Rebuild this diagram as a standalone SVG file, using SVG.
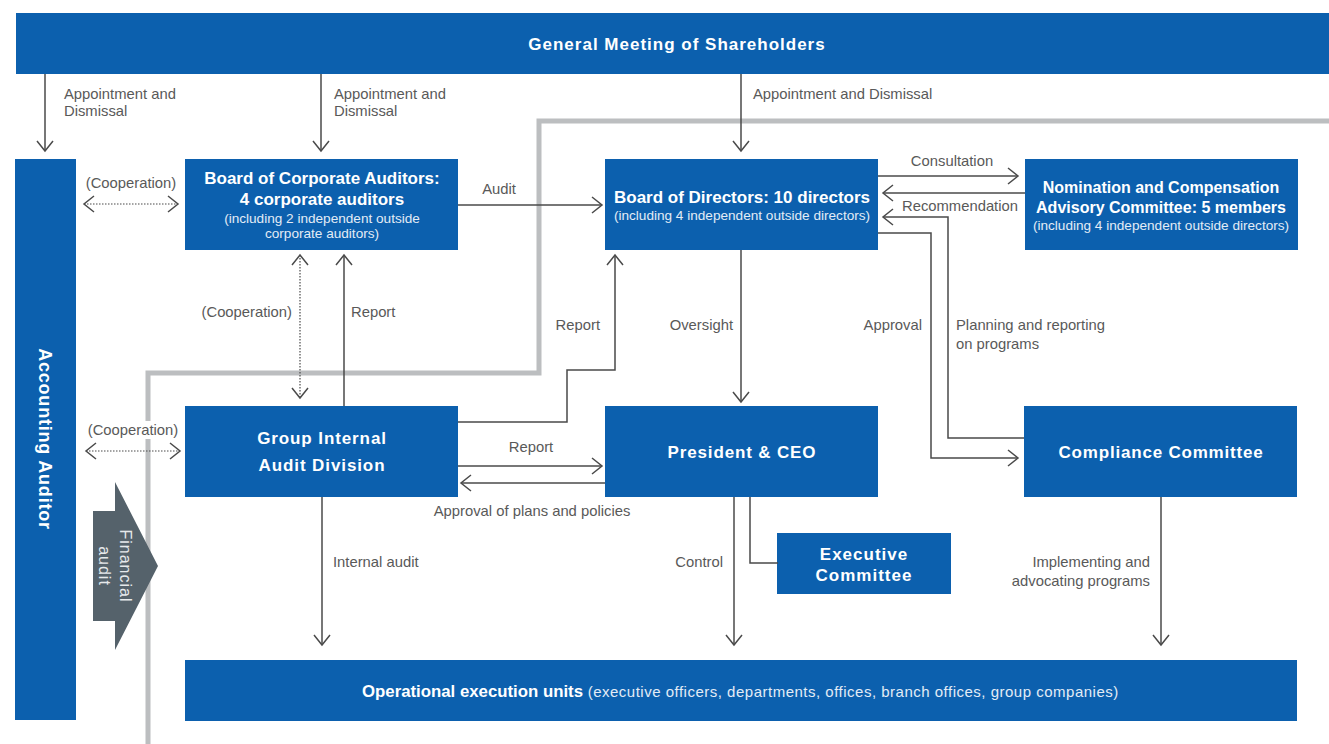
<svg xmlns="http://www.w3.org/2000/svg" width="1329" height="744" viewBox="0 0 1329 744">
<style>
.box{fill:#0C60AE}
.tb{font-family:"Liberation Sans",Arial,sans-serif;font-weight:bold;fill:#fff;font-size:17px;text-anchor:middle}
.ts{font-family:"Liberation Sans",Arial,sans-serif;fill:#E3ECF6;font-size:13.6px;text-anchor:middle}
.lbl{font-family:"Liberation Sans",Arial,sans-serif;fill:#595959;font-size:14.8px}
.conn{fill:none;stroke:#4A4A4A;stroke-width:1.5}
.dot{fill:none;stroke:#4A4A4A;stroke-width:1.2;stroke-dasharray:1.5 1.5}
.frame{fill:none;stroke:#BCBEC0;stroke-width:5}
</style>
<defs>
<marker id="ah" markerUnits="userSpaceOnUse" markerWidth="14" markerHeight="20" refX="11" refY="9" orient="auto-start-reverse" viewBox="0 0 14 20">
<path d="M1,1 L11,9 L1,17" fill="none" stroke="#4A4A4A" stroke-width="1.5"/>
</marker>
</defs>
<rect width="1329" height="744" fill="#fff"/>

<g id="frame-line">
<path class="frame" d="M1329,121 H539 V373 H148 V744"/>
</g>

<g id="gms">
<rect class="box" x="16" y="13" width="1313" height="61"/>
<text class="tb" x="677" y="50" style="letter-spacing:1px">General Meeting of Shareholders</text>
</g>

<g id="accounting-auditor">
<rect class="box" x="15" y="159" width="61" height="561"/>
<text class="tb" transform="translate(45,439) rotate(90)" x="0" y="6" style="font-size:18px;letter-spacing:0.8px">Accounting Auditor</text>
</g>

<g id="bca">
<rect class="box" x="185" y="159" width="273" height="91"/>
<text class="tb" x="322" y="184">Board of Corporate Auditors:</text>
<text class="tb" x="322" y="205">4 corporate auditors</text>
<text class="ts" x="322" y="223">(including 2 independent outside</text>
<text class="ts" x="322" y="238">corporate auditors)</text>
</g>

<g id="bod">
<rect class="box" x="605" y="159" width="273" height="91"/>
<text class="tb" x="742" y="203">Board of Directors: 10 directors</text>
<text class="ts" x="742" y="220">(including 4 independent outside directors)</text>
</g>

<g id="ncac">
<rect class="box" x="1025" y="159" width="273" height="91"/>
<text class="tb" x="1161" y="193" style="font-size:16px">Nomination and Compensation</text>
<text class="tb" x="1161" y="213" style="font-size:16px">Advisory Committee: 5 members</text>
<text class="ts" x="1161" y="230">(including 4 independent outside directors)</text>
</g>

<g id="giad">
<rect class="box" x="185" y="406" width="273" height="91"/>
<text class="tb" x="322" y="444" style="letter-spacing:0.9px">Group Internal</text>
<text class="tb" x="322" y="471" style="letter-spacing:0.9px">Audit Division</text>
</g>

<g id="ceo">
<rect class="box" x="605" y="406" width="273" height="91"/>
<text class="tb" x="742" y="458" style="letter-spacing:0.85px">President &amp; CEO</text>
</g>

<g id="compliance">
<rect class="box" x="1024" y="406" width="273" height="91"/>
<text class="tb" x="1161" y="458" style="letter-spacing:0.8px">Compliance Committee</text>
</g>

<g id="exec">
<rect class="box" x="777" y="533" width="174" height="61"/>
<text class="tb" x="864" y="560" style="letter-spacing:1px">Executive</text>
<text class="tb" x="864" y="581" style="letter-spacing:1px">Committee</text>
</g>

<g id="operational">
<rect class="box" x="185" y="660" width="1112" height="61"/>
<text x="362" y="697" style="font-family:'Liberation Sans',Arial,sans-serif;fill:#fff"><tspan font-weight="bold" font-size="16.8px">Operational execution units</tspan><tspan font-size="15px" fill="#E3ECF6" style="letter-spacing:0.5px"> (executive officers, departments, offices, branch offices, group companies)</tspan></text>
</g>

<g id="financial-audit">
<polygon points="93,511 115,511 115,482 158,566 115,650 115,621 93,621" fill="#55626B"/>
<text transform="translate(0,566) rotate(90)" x="0" y="-120" style="font-family:'Liberation Sans',Arial,sans-serif;font-size:16px;fill:#E6E9EB;text-anchor:middle;letter-spacing:1px">Financial</text>
<text transform="translate(0,566) rotate(90)" x="0" y="-99" style="font-family:'Liberation Sans',Arial,sans-serif;font-size:16px;fill:#E6E9EB;text-anchor:middle;letter-spacing:1px">audit</text>
</g>

<g id="connectors">
<path class="conn" d="M45,74 V151" marker-end="url(#ah)"/>
<path class="conn" d="M321,74 V151" marker-end="url(#ah)"/>
<path class="conn" d="M741,74 V151" marker-end="url(#ah)"/>
<path class="dot" d="M84,204 H178" marker-start="url(#ah)" marker-end="url(#ah)"/>
<path class="conn" d="M458,205 H602" marker-end="url(#ah)"/>
<path class="conn" d="M878,176 H1018" marker-end="url(#ah)"/>
<path class="conn" d="M1025,193 H883" marker-end="url(#ah)"/>
<path class="conn" d="M878,233 H931 V458 H1018" marker-end="url(#ah)"/>
<path class="conn" d="M1024,438 H948 V217 H883" marker-end="url(#ah)"/>
<path class="dot" d="M300,255 V398" marker-start="url(#ah)" marker-end="url(#ah)"/>
<path class="conn" d="M344,406 V255" marker-end="url(#ah)"/>
<path class="conn" d="M458,422 H567 V370 H615 V255" marker-end="url(#ah)"/>
<path class="conn" d="M741,250 V402" marker-end="url(#ah)"/>
<path class="conn" d="M458,466 H602" marker-end="url(#ah)"/>
<path class="conn" d="M605,483 H461" marker-end="url(#ah)"/>
<path class="dot" d="M86,451 H180" marker-start="url(#ah)" marker-end="url(#ah)"/>
<path class="conn" d="M322,497 V645" marker-end="url(#ah)"/>
<path class="conn" d="M734,497 V645" marker-end="url(#ah)"/>
<path class="conn" d="M750,497 V563 H778"/>
<path class="conn" d="M1161,497 V645" marker-end="url(#ah)"/>
</g>

<g id="labels">
<text class="lbl" x="64" y="99">Appointment and</text>
<text class="lbl" x="64" y="116">Dismissal</text>
<text class="lbl" x="334" y="99">Appointment and</text>
<text class="lbl" x="334" y="116">Dismissal</text>
<text class="lbl" x="753" y="99">Appointment and Dismissal</text>
<text class="lbl" x="131" y="188" text-anchor="middle">(Cooperation)</text>
<text class="lbl" x="499" y="194" text-anchor="middle">Audit</text>
<text class="lbl" x="952" y="166" text-anchor="middle">Consultation</text>
<text class="lbl" x="960" y="211" text-anchor="middle">Recommendation</text>
<text class="lbl" x="292" y="317" text-anchor="end">(Cooperation)</text>
<text class="lbl" x="351" y="317">Report</text>
<text class="lbl" x="600" y="330" text-anchor="end">Report</text>
<text class="lbl" x="733" y="330" text-anchor="end">Oversight</text>
<text class="lbl" x="922" y="330" text-anchor="end">Approval</text>
<text class="lbl" x="956" y="330">Planning and reporting</text>
<text class="lbl" x="956" y="349">on programs</text>
<rect x="88" y="421" width="90" height="18" fill="#fff"/>
<text class="lbl" x="133" y="435" text-anchor="middle">(Cooperation)</text>
<text class="lbl" x="531" y="452" text-anchor="middle">Report</text>
<text class="lbl" x="532" y="516" text-anchor="middle">Approval of plans and policies</text>
<text class="lbl" x="333" y="567">Internal audit</text>
<text class="lbl" x="723" y="567" text-anchor="end">Control</text>
<text class="lbl" x="1150" y="567" text-anchor="end">Implementing and</text>
<text class="lbl" x="1150" y="586" text-anchor="end">advocating programs</text>
</g>
</svg>
